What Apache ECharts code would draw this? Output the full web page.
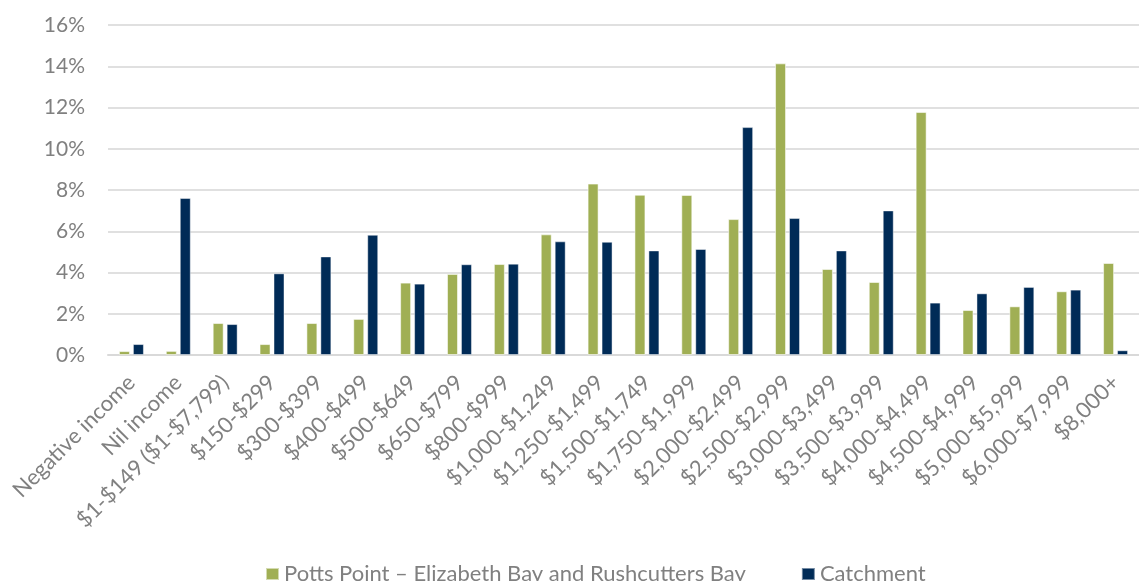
<!DOCTYPE html>
<html>
<head>
<meta charset="utf-8">
<script src="https://cdn.jsdelivr.net/npm/echarts@6/dist/echarts.min.js"></script>
<style>
  html, body { margin: 0; padding: 0; background: #fff; }
  #chart { width: 1139px; height: 581px; }
</style>
</head>
<body>
<div id="chart"></div>
<script>
// Weekly household income bands
const categories = [
  'Negative income', 'Nil income', '$1-$149 ($1-$7,799)', '$150-$299', '$300-$399',
  '$400-$499', '$500-$649', '$650-$799', '$800-$999', '$1,000-$1,249',
  '$1,250-$1,499', '$1,500-$1,749', '$1,750-$1,999', '$2,000-$2,499', '$2,500-$2,999',
  '$3,000-$3,499', '$3,500-$3,999', '$4,000-$4,499', '$4,500-$4,999', '$5,000-$5,999',
  '$6,000-$7,999', '$8,000+'
];

// Share of households in each band (%)
const pottsPoint = [
  0.19, 0.20, 1.55, 0.53, 1.55, 1.75, 3.51, 3.93, 4.41, 5.85,
  8.31, 7.77, 7.76, 6.59, 14.14, 4.17, 3.54, 11.78, 2.18, 2.36,
  3.09, 4.46
];
const catchment = [
  0.53, 7.61, 1.50, 3.96, 4.78, 5.83, 3.46, 4.40, 4.43, 5.51,
  5.49, 5.07, 5.14, 11.05, 6.64, 5.07, 7.01, 2.54, 2.99, 3.30,
  3.17, 0.23
];

const seriesNames = ['Potts Point \u2013 Elizabeth Bay and Rushcutters Bay', 'Catchment'];
const yTicks = { min: 0, max: 16, interval: 2 };

const FONT = 'Lato';
const GREY = '#808080';

const chart = echarts.init(document.getElementById('chart'), null, { renderer: 'canvas' });
chart.setOption({
  animation: false,
  textStyle: { fontFamily: FONT },
  // plot area runs a little past the right edge of the page
  grid: { left: 108, top: 25, width: 1049, height: 330, containLabel: false },
  legend: {
    bottom: -9,
    left: 260,
    itemWidth: 13,
    itemHeight: 12,
    itemGap: 55,
    icon: 'rect',
    textStyle: { fontFamily: FONT, fontSize: 22, color: GREY },
    data: seriesNames
  },
  xAxis: {
    type: 'category',
    data: categories,
    axisLine: { lineStyle: { color: '#d9d9d9', width: 2 } },
    axisTick: { show: false },
    axisLabel: {
      interval: 0,
      rotate: 45,
      margin: 24,
      fontFamily: FONT,
      fontSize: 22,
      color: GREY
    }
  },
  yAxis: {
    type: 'value',
    min: yTicks.min,
    max: yTicks.max,
    interval: yTicks.interval,
    axisLine: { show: false },
    axisTick: { show: false },
    splitLine: { lineStyle: { color: '#e0e0e0', width: 2 } },
    axisLabel: {
      margin: 23,
      fontFamily: FONT,
      fontSize: 21,
      color: GREY,
      formatter: v => v + '%'
    }
  },
  series: [
    {
      name: seriesNames[0],
      type: 'bar',
      data: pottsPoint,
      barWidth: 11,
      barGap: '27%',
      itemStyle: { color: '#A0AF54', borderColor: 'rgba(255,255,255,0.55)', borderWidth: 1 }
    },
    {
      name: seriesNames[1],
      type: 'bar',
      data: catchment,
      barWidth: 11,
      barGap: '27%',
      itemStyle: { color: '#002B57', borderColor: 'rgba(255,255,255,0.45)', borderWidth: 1 }
    }
  ]
});
</script>
</body>
</html>
